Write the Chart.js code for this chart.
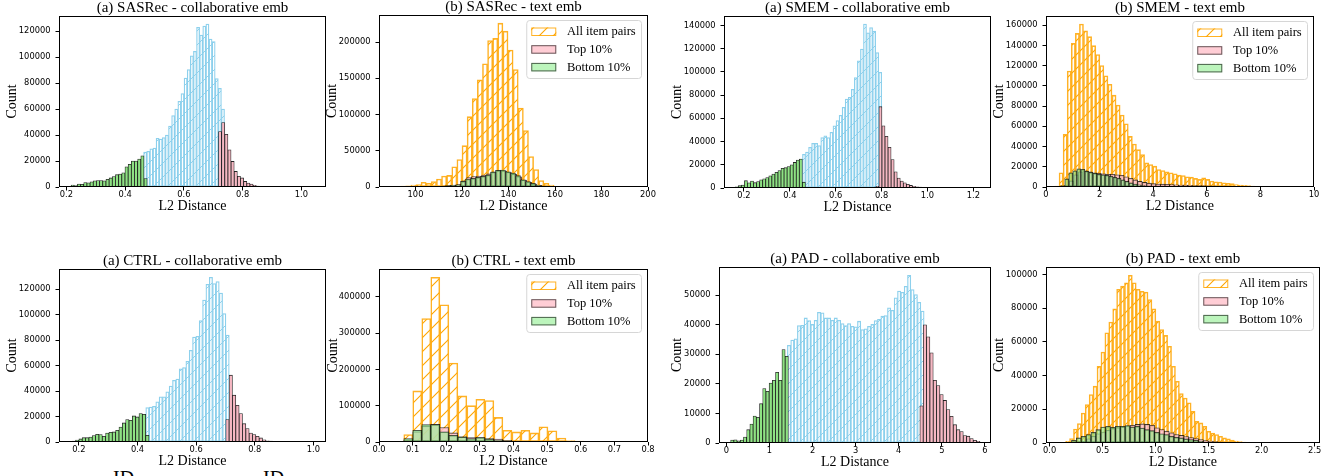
<!DOCTYPE html>
<html>
<head>
<meta charset="utf-8">
<script src="https://cdn.jsdelivr.net/npm/chart.js@4.4.0/dist/chart.umd.min.js"></script>
<style>
  body { margin: 0; background: #fff; width: 1338px; height: 476px; overflow: hidden; position: relative; }
  .panel { position: absolute; }
  .cut { position: absolute; font-family: 'Liberation Serif', serif; font-size: 20px; line-height: 20px; color: #000; }
</style>
</head>
<body>
<div class="cut" style="left:113px;top:468px">ID</div>
<div class="cut" style="left:263px;top:468px">ID</div>
<script>
// --- Titles / legend ---
const titles = [
  '(a) SASRec - collaborative emb', '(b) SASRec - text emb',
  '(a) SMEM - collaborative emb', '(b) SMEM - text emb',
  '(a) CTRL - collaborative emb', '(b) CTRL - text emb',
  '(a) PAD - collaborative emb', '(b) PAD - text emb'
];
const legendLabels = ['All item pairs', 'Top 10%', 'Bottom 10%'];

// --- (a) SASRec - collaborative emb ---  bins = [first edge, bin width]
const sasColXTicks = [0.2, 0.4, 0.6, 0.8, 1.0];
const sasColYTicks = [0, 20000, 40000, 60000, 80000, 100000, 120000];
const sasColAllBins = [0.463, 0.0106];
const sasColAll = [27000, 27500, 29500, 30000, 37500, 37000, 38000, 40000, 47000, 55000, 60000, 66000, 72000,
  84000, 90500, 101000, 104500, 123000, 117000, 124000, 125500, 114000, 112000, 83500, 76000, 60000];
const sasColTopBins = [0.718, 0.0107];
const sasColTop = [42700, 49600, 40600, 28600, 19700, 12000, 8200, 7000, 4300, 3000, 2300, 1300, 700, 400, 200, 100,
  0, 0, 0, 0, 0, 0, 0, 0, 0, 0, 0, 0, 0, 0];
const sasColBotBins = [0.216, 0.0108];
const sasColBot = [1500, 1000, 2300, 2000, 3500, 3200, 4000, 4700, 5000, 5000, 4800, 6000, 7000, 8000, 9500, 10000,
  11000, 15500, 17500, 20000, 20000, 21500, 24000, 6500];

// --- (b) SASRec - text emb ---
const sasTxtXTicks = [100, 120, 140, 160, 180, 200];
const sasTxtYTicks = [0, 50000, 100000, 150000, 200000];
const sasTxtAllBins = [84.8, 2.2];
const sasTxtAll = [300, 500, 700, 900, 1200, 1500, 2500, 3500, 6500, 5000, 7500, 11000, 15000, 16000, 28000, 38000,
  57000, 97000, 122000, 148000, 170000, 202000, 205000, 226000, 215000, 189000, 162000, 109000, 78000, 42000,
  24000, 9000, 5000, 2500, 1000, 500, 300, 150];
const sasTxtTopBins = [100.5, 2.15];
const sasTxtTop = [100, 200, 400, 600, 900, 1300, 1800, 2500, 3500, 8500, 13000, 14500, 15000, 16500, 18000, 21000,
  22500, 22000, 20000, 17500, 14000, 9500, 6500, 4000, 2200, 1100, 600, 300, 150, 50];
const sasTxtBotBins = [100, 2.15];
const sasTxtBot = [200, 300, 500, 700, 1000, 1400, 1800, 2300, 3000, 7800, 11000, 12000, 13300, 14700, 16500, 20700,
  23000, 23400, 21000, 19300, 15600, 10000, 7400, 5000, 2800, 1400, 800, 400, 200, 100, 0];

// --- (a) SMEM - collaborative emb ---
const smemColXTicks = [0.2, 0.4, 0.6, 0.8, 1.0, 1.2];
const smemColYTicks = [0, 20000, 40000, 60000, 80000, 100000, 120000, 140000];
const smemColAllBins = [0.455, 0.0133];
const smemColAll = [29000, 31000, 35000, 38500, 38500, 36500, 43500, 45000, 43500, 48000, 53500, 58000, 62500,
  69500, 76500, 78000, 85000, 95000, 109500, 119500, 141000, 133500, 138000, 135000, 116500, 99500];
const smemColTopBins = [0.775, 0.0133];
const smemColTop = [1500, 70000, 53500, 44500, 35000, 24500, 14000, 8500, 6000, 4500, 3200, 2200, 1500, 1100, 800,
  500, 300, 200, 100, 0, 0, 0, 0, 0, 0, 0, 0, 0, 0, 0, 0, 0, 0, 0];
const smemColBotBins = [0.162, 0.0133];
const smemColBot = [1000, 2000, 2600, 6300, 4500, 6000, 4600, 5500, 7000, 8000, 9000, 10500, 12000, 13500, 15000,
  17000, 17500, 18500, 20000, 22000, 24000, 25000, 5000];

// --- (b) SMEM - text emb ---
const smemTxtXTicks = [0, 2, 4, 6, 8, 10];
const smemTxtYTicks = [0, 20000, 40000, 60000, 80000, 100000, 120000, 140000, 160000];
const smemTxtAllBins = [0.335, 0.152];
const smemTxtAll = [1000, 14000, 52000, 114600, 142000, 151800, 161000, 154400, 148600, 139700, 131000, 120000,
  110000, 101500, 90800, 81000, 71200, 62400, 50000, 42400, 36900, 32000, 23800, 22200, 20600, 17300, 16300, 15000,
  14000, 13000, 11800, 11400, 10100, 9800, 8500, 7500, 9100, 7500, 5900, 5200, 4900, 4200, 3600, 3300, 2300, 2000,
  1600, 1300, 1000, 700, 600, 400, 300, 300, 200, 100, 100];
const smemTxtTopBins = [0.7, 0.17];
const smemTxtTop = [1000, 6000, 12000, 15000, 16000, 15000, 14000, 13500, 13000, 12500, 12500, 12000, 11500, 10000,
  8500, 7000, 5500, 4500, 3800, 3300, 3000, 2800, 2600, 2400, 2200, 2000, 1800, 1700, 1500, 1400, 1300, 1200, 1100,
  1000, 900, 800, 300];
const smemTxtBotBins = [0.55, 0.15];
const smemTxtBot = [1500, 8000, 14000, 16000, 18000, 17500, 15500, 14500, 13500, 12500, 12000, 11500, 10500, 9500,
  8500, 7000, 5500, 4000, 3000, 2200, 1500, 1000, 600, 300, 100];

// --- (a) CTRL - collaborative emb ---
const ctrlColXTicks = [0.2, 0.4, 0.6, 0.8, 1.0];
const ctrlColYTicks = [0, 20000, 40000, 60000, 80000, 100000, 120000];
const ctrlColAllBins = [0.428, 0.0114];
const ctrlColAll = [27000, 27500, 28000, 31500, 35500, 35500, 39500, 44000, 48500, 49500, 57500, 58500, 63500,
  72000, 82500, 83000, 95500, 111500, 124000, 129500, 124500, 126000, 117000, 101000, 84000];
const ctrlColTopBins = [0.701, 0.0114];
const ctrlColTop = [17600, 52500, 36800, 28900, 22300, 14400, 10500, 7100, 5800, 4500, 3200, 1800, 1000, 700,
  0, 0, 0, 0, 0, 0, 0, 0, 0, 0, 0, 0];
const ctrlColBotBins = [0.177, 0.0114];
const ctrlColBot = [800, 1600, 2400, 3400, 3400, 3900, 5000, 6000, 5800, 4500, 7100, 7600, 7900, 9200, 11800, 15000,
  17600, 17100, 20500, 19700, 22300, 21800, 5200];

// --- (b) CTRL - text emb ---
const ctrlTxtXTicks = [0, 0.1, 0.2, 0.3, 0.4, 0.5, 0.6, 0.7, 0.8];
const ctrlTxtYTicks = [0, 100000, 200000, 300000, 400000];
const ctrlTxtAllBins = [0.0736, 0.0268];
const ctrlTxtAll = [20400, 140700, 339800, 453700, 377800, 217600, 126800, 100000, 117600, 113900, 67600, 32400,
  27800, 32400, 25000, 41700, 30600, 11100, 3700, 2800, 900];
const ctrlTxtTopBins = [0.0468, 0.0268];
const ctrlTxtTop = [0, 4600, 27800, 43500, 49000, 39800, 25000, 13900, 12000, 12000, 9300, 8300, 4600, 2800, 2000,
  1500, 1200, 900, 700, 500, 300, 200, 100, 50, 0, 0, 0, 0];
const ctrlTxtBotBins = [0.0468, 0.0268];
const ctrlTxtBot = [0, 9300, 32400, 48100, 48100, 27800, 18500, 13900, 9300, 12000, 8300, 4600, 3700, 2000, 1500,
  1000, 500, 300, 200, 100, 0, 0, 0, 0, 0, 0, 0, 0];

// --- (a) PAD - collaborative emb ---
const padColXTicks = [0, 1, 2, 3, 4, 5, 6];
const padColYTicks = [0, 10000, 20000, 30000, 40000, 50000];
const padColAllBins = [1.416, 0.0774];
const padColAll = [33000, 34800, 35200, 39700, 39800, 42300, 41400, 40100, 41500, 44200, 44000, 42300, 42300, 41500,
  42300, 41500, 40400, 39700, 40400, 39500, 39300, 41200, 38400, 38600, 39500, 40100, 41400, 41800, 42900, 43100,
  45700, 44900, 49100, 51400, 51000, 53000, 56700, 51900, 50200, 47600, 44600];
const padColTopBins = [4.49, 0.0774];
const padColTop = [12600, 40000, 35900, 30500, 21200, 19400, 16400, 14400, 11300, 9000, 6200, 4500, 3900, 2500,
  2300, 1500, 900, 560, 200];
const padColBotBins = [0.1, 0.0744];
const padColBot = [1000, 1100, 700, 1000, 2000, 4500, 6400, 9100, 8700, 13300, 18400, 17500, 20300, 21200, 23900,
  21200, 31600, 29300];

// --- (b) PAD - text emb ---
const padTxtXTicks = [0, 0.5, 1.0, 1.5, 2.0, 2.5];
const padTxtYTicks = [0, 20000, 40000, 60000, 80000, 100000];
const padTxtAllBins = [0.114, 0.037];
const padTxtAll = [400, 1000, 2600, 8300, 11500, 17800, 22800, 28700, 33700, 45500, 53900, 65300, 71700, 79600,
  91100, 93100, 95000, 99400, 95000, 91100, 90000, 89500, 85100, 79600, 72300, 67300, 63800, 57400, 45500, 36600,
  29300, 26700, 23800, 18800, 12900, 11900, 9900, 6900, 5900, 5000, 4000, 3000, 2400, 1800, 1200, 800, 600, 400,
  400, 200];
const padTxtTopBins = [0.3, 0.046];
const padTxtTop = [1000, 2500, 4000, 5500, 6500, 7500, 8500, 9000, 9500, 10000, 10500, 11000, 11300, 11000, 10500,
  9000, 8000, 7000, 6000, 5000, 4500, 3800, 3200, 2600, 2000, 1500, 1100, 800, 500, 300, 200, 100, 50, 0];
const padTxtBotBins = [0.206, 0.046];
const padTxtBot = [1600, 3000, 4000, 5000, 6300, 7900, 9500, 9900, 9300, 9900, 9900, 10300, 9500, 9900, 8900, 7900,
  7300, 6300, 5500, 5000, 4000, 3400, 3000, 2400, 2000, 1600, 1000, 600, 300];

// --- Colors ---
const SKY = '#87CEEB';
const ORANGE = '#FFA500';
const greenSolid = '#8ee283';
const pinkSolid = '#f6b8c3';
const greenAlpha = 'rgba(144, 238, 144, 0.6)';
const pinkAlpha = 'rgba(255, 192, 203, 0.8)';

function hatch(color, gap, width) {
  const tile = document.createElement('canvas');
  tile.width = gap; tile.height = gap;
  const g = tile.getContext('2d');
  g.strokeStyle = color;
  g.lineWidth = width;
  g.beginPath();
  g.moveTo(0, gap); g.lineTo(gap, 0);
  g.moveTo(-gap, gap); g.lineTo(gap, -gap);
  g.moveTo(0, 2 * gap); g.lineTo(2 * gap, 0);
  g.stroke();
  return document.createElement('canvas').getContext('2d').createPattern(tile, 'repeat');
}
const blueHatch = hatch(SKY, 14, 0.9);
const orangeHatch = hatch(ORANGE, 14, 1.1);

function toXY(bins, counts) {
  return counts.map((c, i) => ({ x: bins[0] + bins[1] * (i + 0.5), y: c }));
}

// --- Panel layout (plot area in page px) ---
const panels = [
  { title: titles[0], kind: 'col', box: [59, 16, 326, 187], yW: 55, xlim: [0.175, 1.084], xDec: 1,
    xTicks: sasColXTicks, yTicks: sasColYTicks,
    all: toXY(sasColAllBins, sasColAll), top: toXY(sasColTopBins, sasColTop), bot: toXY(sasColBotBins, sasColBot) },
  { title: titles[1], kind: 'txt', box: [379, 15, 648, 187], yW: 55, xlim: [84.3, 200], xDec: 0,
    xTicks: sasTxtXTicks, yTicks: sasTxtYTicks,
    all: toXY(sasTxtAllBins, sasTxtAll), top: toXY(sasTxtTopBins, sasTxtTop), bot: toXY(sasTxtBotBins, sasTxtBot) },
  { title: titles[2], kind: 'col', box: [724, 16, 991, 188], yW: 55, xlim: [0.113, 1.277], xDec: 1,
    xTicks: smemColXTicks, yTicks: smemColYTicks,
    all: toXY(smemColAllBins, smemColAll), top: toXY(smemColTopBins, smemColTop), bot: toXY(smemColBotBins, smemColBot) },
  { title: titles[3], kind: 'txt', box: [1046, 16, 1314, 187], yW: 55, xlim: [0, 10], xDec: 0,
    xTicks: smemTxtXTicks, yTicks: smemTxtYTicks,
    all: toXY(smemTxtAllBins, smemTxtAll), top: toXY(smemTxtTopBins, smemTxtTop), bot: toXY(smemTxtBotBins, smemTxtBot) },
  { title: titles[4], kind: 'col', box: [59, 269, 326, 442], yW: 55, xlim: [0.132, 1.043], xDec: 1,
    xTicks: ctrlColXTicks, yTicks: ctrlColYTicks,
    all: toXY(ctrlColAllBins, ctrlColAll), top: toXY(ctrlColTopBins, ctrlColTop), bot: toXY(ctrlColBotBins, ctrlColBot) },
  { title: titles[5], kind: 'txt', box: [379, 269, 648, 442], yW: 54, xlim: [0, 0.8], xDec: 1,
    xTicks: ctrlTxtXTicks, yTicks: ctrlTxtYTicks,
    all: toXY(ctrlTxtAllBins, ctrlTxtAll), top: toXY(ctrlTxtTopBins, ctrlTxtTop), bot: toXY(ctrlTxtBotBins, ctrlTxtBot) },
  { title: titles[6], kind: 'col', box: [719, 267, 991, 443], yW: 50, xlim: [-0.17, 6.14], xDec: 0,
    xTicks: padColXTicks, yTicks: padColYTicks,
    all: toXY(padColAllBins, padColAll), top: toXY(padColTopBins, padColTop), bot: toXY(padColBotBins, padColBot) },
  { title: titles[7], kind: 'txt', box: [1046, 267, 1320, 443], yW: 55, xlim: [-0.034, 2.55], xDec: 1,
    xTicks: padTxtXTicks, yTicks: padTxtYTicks,
    all: toXY(padTxtAllBins, padTxtAll), top: toXY(padTxtTopBins, padTxtTop), bot: toXY(padTxtBotBins, padTxtBot) }
];

// --- Plugins: axes frame + in-plot legend ---
const frame = {
  id: 'frame',
  afterDatasetsDraw(chart) {
    const { ctx, chartArea: a } = chart;
    ctx.save();
    ctx.strokeStyle = '#000';
    ctx.lineWidth = 1;
    ctx.strokeRect(a.left + 0.5, a.top + 0.5, a.right - a.left - 1, a.bottom - a.top - 1);
    ctx.restore();
  }
};

const boxLegend = {
  id: 'boxLegend',
  afterDatasetsDraw(chart, args, opts) {
    if (!opts.items) return;
    const { ctx, chartArea: a } = chart;
    ctx.save();
    ctx.font = '12.5px "Liberation Serif"';
    const tw = Math.max(...opts.items.map(it => ctx.measureText(it.label).width));
    const w = tw + 46, h = 58;
    const x = a.right - 7 - w, y = a.top + 5;
    ctx.fillStyle = 'rgba(255,255,255,0.85)';
    ctx.strokeStyle = '#d6d6d6';
    ctx.lineWidth = 1;
    ctx.beginPath();
    ctx.roundRect(x + 0.5, y + 0.5, w, h, 3);
    ctx.fill();
    ctx.stroke();
    opts.items.forEach((it, i) => {
      const cy = y + 11.5 + i * 17.7;
      ctx.fillStyle = '#fff';
      ctx.fillRect(x + 5, cy - 4, 25, 8.5);
      ctx.fillStyle = it.fill;
      ctx.fillRect(x + 5, cy - 4, 25, 8.5);
      ctx.strokeStyle = it.edge;
      ctx.strokeRect(x + 5.5, cy - 3.5, 24, 7.5);
      ctx.fillStyle = '#000';
      ctx.textBaseline = 'middle';
      ctx.fillText(it.label, x + 40.7, cy + 0.5);
    });
    ctx.restore();
  }
};

Chart.defaults.font.family = 'DejaVu Sans';
const tickFont = { family: 'DejaVu Sans', size: 8.3, lineHeight: 1 };
const labelFont = { family: 'Liberation Serif', size: 14 };
const TITLE_H = 16, X_H = 28, RIGHT_PAD = 12;

panels.forEach(p => {
  const [L, T, R, B] = p.box;
  const cw = p.yW + (R - L) + RIGHT_PAD;
  const ch = TITLE_H + (B - T) + X_H;
  const wrap = document.createElement('div');
  wrap.className = 'panel';
  wrap.style.left = (L - p.yW) + 'px';
  wrap.style.top = (T - TITLE_H) + 'px';
  wrap.style.width = cw + 'px';
  wrap.style.height = ch + 'px';
  const cv = document.createElement('canvas');
  cv.width = cw;
  cv.height = ch;
  wrap.appendChild(cv);
  document.body.appendChild(wrap);

  const txt = p.kind === 'txt';
  const barCommon = { barPercentage: 1, categoryPercentage: 1, borderSkipped: false, grouped: false };
  const yMax = Math.max(...p.all.map(d => d.y), ...p.top.map(d => d.y), ...p.bot.map(d => d.y)) * 1.05;

  const datasets = [
    Object.assign({
      label: legendLabels[2], data: p.bot, xAxisID: 'xb',
      backgroundColor: txt ? greenAlpha : greenSolid,
      borderColor: txt ? 'rgba(0,0,0,0.75)' : 'rgba(0,0,0,0.85)', borderWidth: 0.8
    }, barCommon),
    Object.assign({
      label: legendLabels[1], data: p.top, xAxisID: 'xt',
      backgroundColor: txt ? pinkAlpha : pinkSolid,
      borderColor: txt ? 'rgba(0,0,0,0.75)' : 'rgba(0,0,0,0.85)', borderWidth: 0.8
    }, barCommon),
    Object.assign({
      label: legendLabels[0], data: p.all, xAxisID: 'x',
      backgroundColor: txt ? orangeHatch : blueHatch,
      borderColor: txt ? 'rgba(255,165,0,0.85)' : 'rgba(135,206,235,0.95)', borderWidth: txt ? 0.9 : 0.6
    }, barCommon)
  ];

  const hidden = { type: 'linear', display: false, min: p.xlim[0], max: p.xlim[1], offset: false, bounds: 'data' };

  new Chart(cv, {
    type: 'bar',
    data: { datasets },
    options: {
      responsive: false,
      animation: false,
      layout: { padding: { left: 0, top: 0, right: RIGHT_PAD, bottom: 0 } },
      scales: {
        x: {
          type: 'linear', min: p.xlim[0], max: p.xlim[1], offset: false, bounds: 'data',
          grid: { display: true, drawOnChartArea: false, drawTicks: true, tickLength: 3.5, color: '#000', offset: false },
          border: { display: false },
          ticks: { font: tickFont, color: '#000', padding: 0, autoSkip: false, maxRotation: 0,
                   callback: v => v.toFixed(p.xDec) },
          title: { display: true, text: 'L2 Distance', font: labelFont, color: '#000', padding: 0 },
          afterBuildTicks: s => { s.ticks = p.xTicks.map(v => ({ value: v })); },
          afterFit: s => { s.height = X_H; s.paddingLeft = 0; s.paddingRight = 0; }
        },
        xt: hidden,
        xb: hidden,
        y: {
          type: 'linear', min: 0, max: yMax, bounds: 'data',
          grid: { display: true, drawOnChartArea: false, drawTicks: true, tickLength: 3.5, color: '#000' },
          border: { display: false },
          ticks: { font: tickFont, color: '#000', padding: 5, callback: v => String(v) },
          title: { display: true, text: 'Count', font: labelFont, color: '#000', padding: 0 },
          afterBuildTicks: s => { s.ticks = p.yTicks.map(v => ({ value: v })); },
          afterFit: s => { s.width = p.yW; s.paddingTop = 0; s.paddingBottom = 0; }
        }
      },
      plugins: {
        legend: { display: false },
        tooltip: { enabled: false },
        title: {
          display: true, text: p.title, fullSize: false, color: '#000', padding: 0,
          font: { family: 'Liberation Serif', size: 15, weight: 'normal', lineHeight: TITLE_H / 15 }
        },
        boxLegend: txt ? {
          items: [
            { label: legendLabels[0], fill: orangeHatch, edge: 'rgba(255,165,0,0.85)' },
            { label: legendLabels[1], fill: pinkAlpha, edge: 'rgba(0,0,0,0.6)' },
            { label: legendLabels[2], fill: greenAlpha, edge: 'rgba(0,0,0,0.6)' }
          ]
        } : {}
      }
    },
    plugins: [frame, boxLegend]
  });
});
</script>
</body>
</html>
